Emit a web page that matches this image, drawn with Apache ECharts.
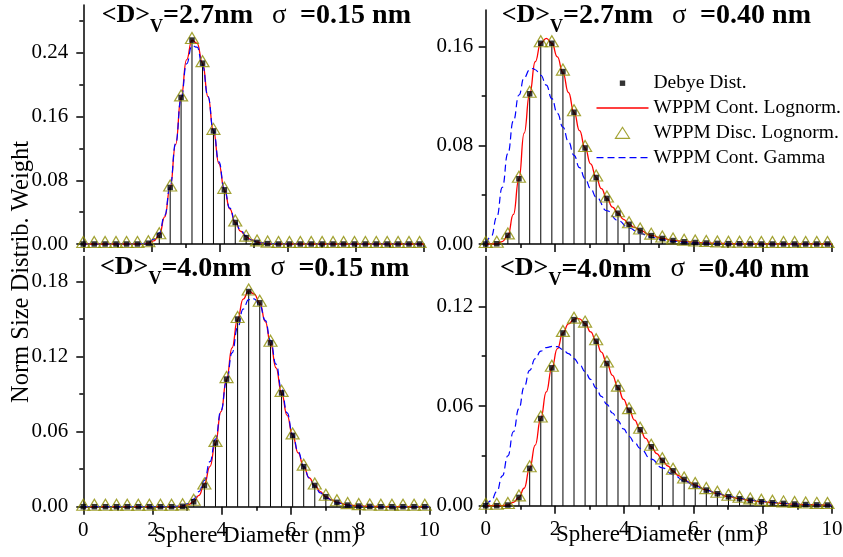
<!DOCTYPE html>
<html>
<head>
<meta charset="utf-8">
<script src="https://cdn.jsdelivr.net/npm/echarts@6/dist/echarts.min.js"></script>
<style>
  html, body { margin: 0; padding: 0; background: #fff; }
  #chart { width: 843px; height: 557px; }
</style>
</head>
<body>
<div id="chart"></div>
<script>
// Sphere diameters (nm) of the discrete size classes
const diameters = [0.00, 0.32, 0.64, 0.96, 1.27, 1.59, 1.91, 2.23, 2.55, 2.87, 3.19, 3.50, 3.82, 4.14, 4.46, 4.78,
                   5.10, 5.41, 5.73, 6.05, 6.37, 6.69, 7.01, 7.33, 7.64, 7.96, 8.28, 8.60, 8.92, 9.24, 9.56, 9.87];

// <D>v = 2.7 nm, sigma = 0.15 nm
const debyeA = [0, 0, 0, 0, 0, 0, 0.001, 0.011, 0.071, 0.184, 0.256, 0.227, 0.142, 0.068, 0.027, 0.008,
                0.002, 0.0005, 0, 0, 0, 0, 0, 0, 0, 0, 0, 0, 0, 0, 0, 0];
const discA  = [0, 0, 0, 0, 0, 0, 0.001, 0.011, 0.071, 0.184, 0.256, 0.227, 0.142, 0.068, 0.027, 0.008,
                0.002, 0.0005, 0, 0, 0, 0, 0, 0, 0, 0, 0, 0, 0, 0, 0, 0];
const lognormA = [[0, 0], [1.6, 0], [1.75, 0.0003], [1.91, 0.0012], [2.07, 0.004], [2.23, 0.011], [2.39, 0.034],
                  [2.55, 0.071], [2.71, 0.125], [2.87, 0.184], [3.03, 0.231], [3.19, 0.256], [3.34, 0.252],
                  [3.50, 0.227], [3.66, 0.185], [3.82, 0.142], [3.98, 0.101], [4.14, 0.068], [4.30, 0.044],
                  [4.46, 0.027], [4.62, 0.016], [4.78, 0.009], [4.94, 0.005], [5.10, 0.0025], [5.26, 0.0012],
                  [5.41, 0.0005], [5.6, 0.0002], [5.9, 0], [10, 0]];
const gammaA = [[0, 0], [1.5, 0], [1.75, 0.0005], [1.91, 0.002], [2.07, 0.006], [2.23, 0.014], [2.39, 0.036],
                [2.55, 0.073], [2.71, 0.126], [2.87, 0.182], [3.03, 0.226], [3.19, 0.249], [3.34, 0.247],
                [3.50, 0.224], [3.66, 0.185], [3.82, 0.143], [3.98, 0.103], [4.14, 0.069], [4.30, 0.045],
                [4.46, 0.028], [4.62, 0.017], [4.78, 0.010], [4.94, 0.005], [5.10, 0.0027], [5.26, 0.0013],
                [5.41, 0.0006], [5.7, 0.0002], [6.0, 0], [10, 0]];

// <D>v = 2.7 nm, sigma = 0.40 nm
const debyeB = [0, 0.0002, 0.007, 0.053, 0.122, 0.163, 0.163, 0.140, 0.107, 0.078, 0.054, 0.037, 0.025, 0.016,
                0.011, 0.0068, 0.0045, 0.0028, 0.0018, 0.0012, 0.0008, 0.0005, 0.0003, 0.0002, 0.0001,
                0, 0, 0, 0, 0, 0, 0];
const discB  = [0, 0.0002, 0.007, 0.053, 0.122, 0.163, 0.163, 0.140, 0.107, 0.078, 0.054, 0.037, 0.025, 0.016,
                0.011, 0.0068, 0.0045, 0.0028, 0.0018, 0.0012, 0.0008, 0.0005, 0.0003, 0.0002, 0.0001,
                0, 0, 0, 0, 0, 0, 0];
const lognormB = [[0, 0], [0.16, 0], [0.32, 0.0002], [0.48, 0.002], [0.64, 0.007], [0.80, 0.024], [0.96, 0.053],
                  [1.11, 0.090], [1.27, 0.122], [1.43, 0.148], [1.59, 0.163], [1.75, 0.167], [1.91, 0.163],
                  [2.07, 0.152], [2.23, 0.139], [2.39, 0.123], [2.55, 0.107], [2.71, 0.092], [2.87, 0.078],
                  [3.03, 0.065], [3.19, 0.054], [3.34, 0.045], [3.50, 0.037], [3.66, 0.030], [3.82, 0.025],
                  [3.98, 0.020], [4.14, 0.016], [4.30, 0.0135], [4.46, 0.011], [4.78, 0.007], [5.10, 0.0046],
                  [5.41, 0.003], [5.73, 0.002], [6.05, 0.0013], [6.37, 0.0008], [6.69, 0.0005], [7.0, 0.0003],
                  [7.64, 0.0001], [8.5, 0], [10, 0]];
const gammaB = [[0, 0], [0.16, 0.006], [0.32, 0.022], [0.48, 0.046], [0.64, 0.0735], [0.80, 0.100], [0.96, 0.121],
                [1.11, 0.135], [1.27, 0.1415], [1.37, 0.1425], [1.43, 0.1415], [1.59, 0.137], [1.75, 0.129],
                [1.91, 0.118], [2.07, 0.106], [2.23, 0.095], [2.39, 0.083], [2.55, 0.072], [2.71, 0.062],
                [2.87, 0.053], [3.03, 0.045], [3.19, 0.038], [3.50, 0.027], [3.82, 0.019], [4.14, 0.013],
                [4.46, 0.0085], [4.78, 0.0055], [5.10, 0.0035], [5.41, 0.0022], [5.73, 0.0014], [6.05, 0.0009],
                [6.69, 0.0003], [7.3, 0.0001], [8, 0], [10, 0]];

// <D>v = 4.0 nm, sigma = 0.15 nm
const debyeC = [0, 0, 0, 0, 0, 0, 0, 0, 0, 0.0003, 0.004, 0.017, 0.051, 0.102, 0.150, 0.172, 0.163, 0.131,
                0.091, 0.057, 0.032, 0.017, 0.008, 0.0035, 0.0013, 0.0005, 0.0002, 0, 0, 0, 0, 0];
const discC  = [0, 0, 0, 0, 0, 0, 0, 0, 0, 0.0003, 0.004, 0.017, 0.051, 0.102, 0.150, 0.172, 0.163, 0.131,
                0.091, 0.057, 0.032, 0.017, 0.008, 0.0035, 0.0013, 0.0005, 0.0002, 0, 0, 0, 0, 0];
const lognormC = [[0, 0], [2.7, 0], [2.87, 0.0004], [3.03, 0.0015], [3.19, 0.004], [3.34, 0.009], [3.50, 0.018],
                  [3.66, 0.032], [3.82, 0.051], [3.98, 0.076], [4.14, 0.102], [4.30, 0.127], [4.46, 0.150],
                  [4.62, 0.166], [4.78, 0.1725], [4.94, 0.170], [5.10, 0.163], [5.26, 0.148], [5.41, 0.131],
                  [5.57, 0.111], [5.73, 0.091], [5.89, 0.073], [6.05, 0.057], [6.21, 0.043], [6.37, 0.032],
                  [6.53, 0.023], [6.69, 0.017], [6.85, 0.012], [7.01, 0.008], [7.17, 0.0055], [7.33, 0.0035],
                  [7.64, 0.0015], [7.96, 0.0006], [8.28, 0.0002], [8.6, 0.0001], [9, 0], [10, 0]];
const gammaC = [[0, 0], [2.6, 0], [2.87, 0.0008], [3.03, 0.0025], [3.19, 0.006], [3.34, 0.012], [3.50, 0.021],
                [3.66, 0.036], [3.82, 0.054], [3.98, 0.077], [4.14, 0.100], [4.30, 0.123], [4.46, 0.143],
                [4.62, 0.158], [4.78, 0.1655], [4.94, 0.1662], [5.10, 0.161], [5.26, 0.149], [5.41, 0.133],
                [5.57, 0.114], [5.73, 0.094], [5.89, 0.075], [6.05, 0.058], [6.21, 0.044], [6.37, 0.032],
                [6.53, 0.023], [6.69, 0.016], [6.85, 0.011], [7.01, 0.007], [7.33, 0.003], [7.64, 0.0012],
                [7.96, 0.0004], [8.6, 0.0001], [9, 0], [10, 0]];

// <D>v = 4.0 nm, sigma = 0.40 nm
const debyeD = [0, 0, 0.0004, 0.005, 0.0225, 0.0525, 0.083, 0.104, 0.112, 0.1096, 0.099, 0.0856, 0.0711, 0.0575,
                0.0457, 0.0355, 0.0273, 0.021, 0.0158, 0.0124, 0.0094, 0.0072, 0.0054, 0.0042, 0.0032, 0.0024,
                0.0018, 0.0014, 0.001, 0.0007, 0.0005, 0.0004];
const discD  = [0, 0, 0.0004, 0.005, 0.0225, 0.0525, 0.083, 0.104, 0.112, 0.1096, 0.099, 0.0856, 0.0711, 0.0575,
                0.0457, 0.0355, 0.0273, 0.021, 0.0158, 0.0124, 0.0094, 0.0072, 0.0054, 0.0042, 0.0032, 0.0024,
                0.0018, 0.0014, 0.001, 0.0007, 0.0005, 0.0004];
const lognormD = [[0, 0], [0.32, 0], [0.48, 0.0001], [0.64, 0.0005], [0.80, 0.002], [0.96, 0.005], [1.11, 0.0105],
                  [1.27, 0.0225], [1.43, 0.0365], [1.59, 0.0525], [1.75, 0.0685], [1.91, 0.083], [2.07, 0.0945],
                  [2.23, 0.104], [2.39, 0.1095], [2.55, 0.1122], [2.65, 0.1127], [2.71, 0.1124], [2.87, 0.1096],
                  [3.03, 0.1046], [3.19, 0.099], [3.34, 0.0925], [3.50, 0.0856], [3.66, 0.0785], [3.82, 0.0711],
                  [3.98, 0.064], [4.14, 0.0575], [4.30, 0.0515], [4.46, 0.0458], [4.62, 0.0405], [4.78, 0.0356],
                  [4.94, 0.0314], [5.10, 0.0274], [5.26, 0.0239], [5.41, 0.0209], [5.57, 0.0181], [5.73, 0.0158],
                  [5.89, 0.014], [6.05, 0.0124], [6.37, 0.0095], [6.69, 0.0073], [7.01, 0.0055], [7.33, 0.0042],
                  [7.64, 0.0032], [7.96, 0.0024], [8.28, 0.0018], [8.60, 0.0013], [8.92, 0.001], [9.24, 0.0007],
                  [9.56, 0.0005], [9.87, 0.0004], [10, 0.0003]];
const gammaD = [[0, 0], [0.16, 0.003], [0.32, 0.0085], [0.48, 0.018], [0.64, 0.030], [0.80, 0.0445], [0.96, 0.0585],
                [1.11, 0.0715], [1.27, 0.0815], [1.43, 0.0885], [1.59, 0.093], [1.75, 0.0952], [1.95, 0.096],
                [2.07, 0.0957], [2.23, 0.094], [2.39, 0.0915], [2.55, 0.0885], [2.71, 0.085], [2.87, 0.0807],
                [3.03, 0.076], [3.19, 0.0708], [3.34, 0.0658], [3.50, 0.061], [3.66, 0.0558], [3.82, 0.051],
                [3.98, 0.0462], [4.14, 0.0418], [4.30, 0.038], [4.46, 0.0345], [4.78, 0.028], [5.10, 0.0228],
                [5.41, 0.0187], [5.73, 0.015], [6.05, 0.0118], [6.37, 0.0094], [6.69, 0.0074], [7.01, 0.0058],
                [7.33, 0.0045], [7.64, 0.0035], [7.96, 0.0027], [8.28, 0.002], [8.60, 0.0015], [8.92, 0.0011],
                [9.24, 0.0008], [9.56, 0.0006], [10, 0.0004]];

// Panel headings and y tick labels
const meanSizes = ['2.7', '2.7', '4.0', '4.0'];
const sigmas    = ['0.15', '0.40', '0.15', '0.40'];
const yMaxima   = [0.30, 0.19, 0.20, 0.15];
const yMajor    = [[0, 0.08, 0.16, 0.24], [0, 0.08, 0.16], [0, 0.06, 0.12, 0.18], [0, 0.06, 0.12]];
const yMinor    = [[0.04, 0.12, 0.20, 0.28], [0.04, 0.12], [0.03, 0.09, 0.15], [0.03, 0.09]];
const xTicks    = [0, 2, 4, 6, 8, 10];

const seriesNames = ['Debye Dist.', 'WPPM Cont. Lognorm.', 'WPPM Disc. Lognorm.', 'WPPM Cont. Gamma'];
const xTitle = 'Sphere Diameter (nm)';
const yTitle = 'Norm Size Distrib. Weight';

const panelData = [
  { debye: debyeA, disc: discA, lognorm: lognormA, gamma: gammaA },
  { debye: debyeB, disc: discB, lognorm: lognormB, gamma: gammaB },
  { debye: debyeC, disc: discC, lognorm: lognormC, gamma: gammaC },
  { debye: debyeD, disc: discD, lognorm: lognormD, gamma: gammaD }
];

// Plot boxes in pixels
const boxes = [
  { left: 83.3, top: 5, width: 340.7, height: 239 },
  { left: 485.7, top: 10, width: 346.3, height: 234 },
  { left: 83.3, top: 256.5, width: 346, height: 250.2 },
  { left: 485.7, top: 256.5, width: 346.3, height: 249.2 }
];
const headingPos = [[101.7, 2], [501.7, 2], [100, 254.3], [500, 255.3]];

const FONT = 'Liberation Serif';
const RED = '#ff0000', BLUE = '#0000ff', OLIVE = '#8c8c00';

const grids = [], xAxes = [], yAxes = [], series = [], graphics = [];

panelData.forEach((p, i) => {
  const box = boxes[i];
  const bottomRow = i >= 2;
  const rightCol = i % 2 === 1;
  const axisStroke = { color: '#000', width: 1.5 };

  grids.push({ left: box.left, top: box.top, width: box.width, height: box.height,
               containLabel: false, outerBoundsMode: 'none', show: false });

  xAxes.push({
    gridIndex: i, type: 'value', min: 0, max: 10, interval: 2, position: 'bottom',
    axisLine: { show: true, onZero: false, lineStyle: axisStroke },
    axisTick: { show: true, inside: false, length: 8, lineStyle: axisStroke },
    minorTick: { show: true, splitNumber: 2, length: 4, lineStyle: axisStroke },
    splitLine: { show: false }, minorSplitLine: { show: false },
    axisLabel: { show: bottomRow, color: '#000', fontFamily: FONT, fontSize: 21, margin: 13,
                 customValues: xTicks, formatter: v => String(v) },
    name: bottomRow ? xTitle : '', nameLocation: 'middle', nameGap: 18, nameMoveOverlap: false,
    nameTextStyle: { color: '#000', fontFamily: FONT, fontSize: 23 }
  });

  // main y axis: line, major ticks, labels
  yAxes.push({
    gridIndex: i, type: 'value', min: 0, max: yMaxima[i], position: 'left',
    axisLine: { show: true, onZero: false, lineStyle: axisStroke },
    axisTick: { show: true, inside: false, length: 7, customValues: yMajor[i], lineStyle: axisStroke },
    splitLine: { show: false },
    axisLabel: { color: '#000', fontFamily: FONT, fontSize: 21, margin: rightCol ? 12.5 : 15,
                 customValues: yMajor[i], formatter: v => v.toFixed(2) }
  });
  // companion y axis carrying the minor ticks
  yAxes.push({
    gridIndex: i, type: 'value', min: 0, max: yMaxima[i], position: 'left',
    axisLine: { show: false },
    axisTick: { show: true, inside: false, length: 4, customValues: yMinor[i], lineStyle: axisStroke },
    splitLine: { show: false },
    axisLabel: { show: false }
  });

  const yIdx = 2 * i;
  const debyePts = diameters.map((d, k) => [d, p.debye[k]]);
  const discPts = diameters.map((d, k) => [d, p.disc[k]]);

  series.push({
    type: 'bar', name: 'drop lines', xAxisIndex: i, yAxisIndex: yIdx, data: debyePts,
    barWidth: 1, itemStyle: { color: '#000' }, silent: true, z: 1
  });
  series.push({
    type: 'line', name: seriesNames[1], xAxisIndex: i, yAxisIndex: yIdx, data: p.lognorm,
    symbol: 'none', showSymbol: false, smooth: true, smoothMonotone: 'x', clip: false,
    lineStyle: { color: RED, width: 1.3 }, itemStyle: { color: RED }, z: 2
  });
  series.push({
    type: 'line', name: seriesNames[3], xAxisIndex: i, yAxisIndex: yIdx, data: p.gamma,
    symbol: 'none', showSymbol: false, smooth: true, smoothMonotone: 'x', clip: false,
    lineStyle: { color: BLUE, width: 1.2, type: [7, 4] }, itemStyle: { color: BLUE }, z: 3
  });
  series.push({
    type: 'scatter', name: seriesNames[2], xAxisIndex: i, yAxisIndex: yIdx, data: discPts,
    symbol: 'triangle', symbolSize: [13, 11], symbolOffset: [0, -2], clip: false,
    itemStyle: { color: 'rgba(0,0,0,0)', borderColor: OLIVE, borderWidth: 1.2 }, z: 4
  });
  series.push({
    type: 'scatter', name: seriesNames[0], xAxisIndex: i, yAxisIndex: yIdx, data: debyePts,
    symbol: 'rect', symbolSize: 5.5, clip: false, itemStyle: { color: '#000' }, z: 5
  });

  // panel heading: <D>_V = ... nm  sigma = ... nm
  graphics.push({
    type: 'text', x: headingPos[i][0], y: headingPos[i][1], silent: true,
    style: {
      text: '{m|<D>}{v|V}{n|=' + meanSizes[i] + 'nm}{g|σ}{k|=' + sigmas[i] + ' nm}',
      rich: {
        m: { fontFamily: FONT, fontWeight: 'bold', fontSize: 26, lineHeight: 30, verticalAlign: 'top', fill: '#000' },
        v: { fontFamily: FONT, fontWeight: 'bold', fontSize: 18, lineHeight: 18, padding: [16, 0, 0, 0],
             verticalAlign: 'top', fill: '#000' },
        n: { fontFamily: FONT, fontWeight: 'bold', fontSize: 28, lineHeight: 30, verticalAlign: 'top', fill: '#000', width: 109 },
        g: { fontFamily: FONT, fontWeight: 'normal', fontSize: 27, lineHeight: 30, verticalAlign: 'top', fill: '#000', width: 28 },
        k: { fontFamily: FONT, fontWeight: 'bold', fontSize: 28, lineHeight: 30, verticalAlign: 'top', fill: '#000' }
      }
    }
  });
});

// shared y title
graphics.push({
  type: 'text', x: 22, y: 272, rotation: Math.PI / 2, silent: true,
  style: { text: yTitle, fontFamily: FONT, fontSize: 24.5, fill: '#000', align: 'center', verticalAlign: 'middle' }
});

const chart = echarts.init(document.getElementById('chart'), null, { renderer: 'canvas' });
chart.setOption({
  animation: false,
  backgroundColor: '#fff',
  textStyle: { fontFamily: FONT },
  grid: grids,
  xAxis: xAxes,
  yAxis: yAxes,
  legend: {
    orient: 'vertical', left: 594, top: 70.8, padding: 0, itemGap: 0,
    itemWidth: 52, itemHeight: 12, selectedMode: false,
    textStyle: { fontFamily: FONT, fontSize: 19.5, color: '#000', lineHeight: 24.8 },
    data: [
      { name: seriesNames[0], icon: 'path://M0,0L0,0M52,12L52,12M23.3,3.3H28.7V8.7H23.3Z',
        itemStyle: { color: '#000', borderWidth: 0 } },
      { name: seriesNames[1], icon: 'path://M0,0L0,0M52,12L52,12M0,6L52,6',
        itemStyle: { color: 'none', borderColor: RED, borderWidth: 1.3, borderType: 'solid' } },
      { name: seriesNames[2], icon: 'path://M0,0L0,0M52,12L52,12M19,11.5L26,0.5L33,11.5Z',
        itemStyle: { color: 'none', borderColor: OLIVE, borderWidth: 1.2, borderType: 'solid' } },
      { name: seriesNames[3], icon: 'path://M0,0L0,0M52,12L52,12M0,6L52,6',
        itemStyle: { color: 'none', borderColor: BLUE, borderWidth: 1.2, borderType: [7, 4] } }
    ]
  },
  graphic: graphics,
  series: series
});
</script>
</body>
</html>
